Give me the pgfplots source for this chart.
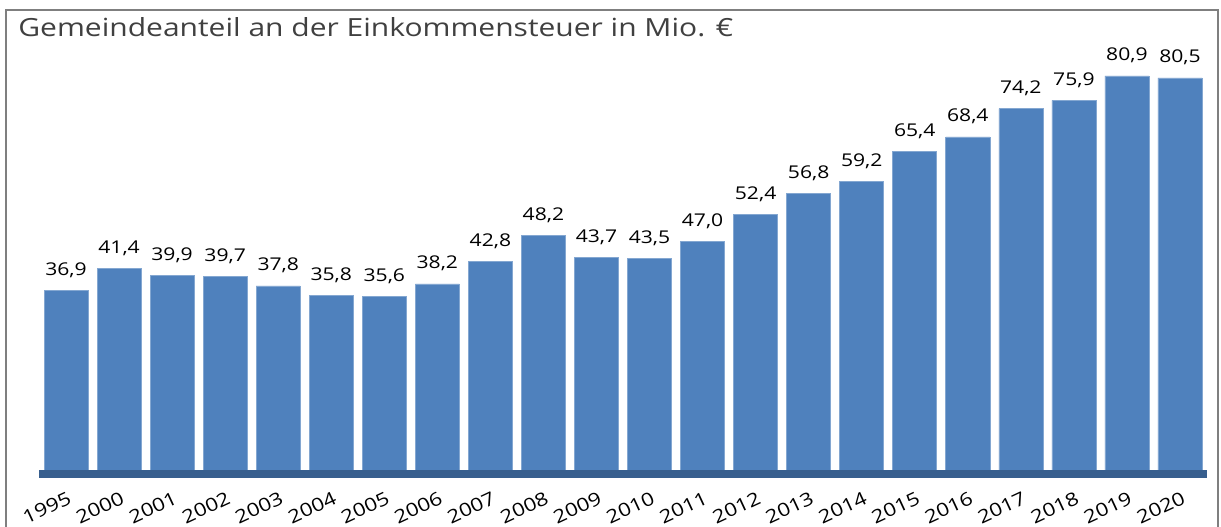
\documentclass[border=0pt]{standalone}
\usepackage{fontspec}
\setmainfont{Open Sans}[FakeStretch=1.2]
\usepackage{pgfplots}
\pgfplotsset{compat=1.18}
\definecolor{barblue}{HTML}{4F81BD}
\definecolor{bandblue}{HTML}{385F8E}
\definecolor{titlegray}{HTML}{404040}
\definecolor{framegray}{HTML}{7F7F7F}
\begin{document}
\begin{tikzpicture}
% page: 1221 x 526 px at 0.5pt per px
\path[use as bounding box] (0,0) rectangle (610.5pt,263pt);
\draw[framegray, line width=0.6pt] (3pt,-1pt) -- (3pt,258pt) -- (609pt,258pt) -- (609pt,-1pt);
\node[anchor=base west, inner sep=0pt, text=titlegray, font=\fontsize{12.5}{14}\selectfont] at (9pt,244.5pt)
  {Gemeindeanteil an der Einkommensteuer in Mio. €};
\begin{axis}[
  at={(19.75pt,28pt)}, anchor=south west,
  scale only axis,
  width=583.5pt, height=207pt,
  xmin=-0.5, xmax=21.5,
  ymin=0, ymax=85,
  hide y axis,
  axis x line*=bottom,
  x axis line style={draw=none},
  xtick=data,
  xticklabels={1995,2000,2001,2002,2003,2004,2005,2006,2007,2008,2009,2010,2011,2012,2013,2014,2015,2016,2017,2018,2019,2020},
  xtick style={draw=none},
  xticklabel style={rotate=25, anchor=north east, inner sep=0pt, yshift=-5.5pt, xshift=-2pt, font=\fontsize{9.2}{10}\selectfont},
  clip=false,
  ybar, bar width=0.83, bar shift=0pt,
  nodes near coords,
  every node near coord/.append style={/pgf/number format/assume math mode=true, /pgf/number format/use comma, /pgf/number format/fixed, /pgf/number format/fixed zerofill, /pgf/number format/precision=1,
    anchor=base, inner sep=0pt, yshift=7.5pt, text=black, font=\fontsize{8.8}{10}\selectfont},
]
\addplot[fill=barblue, draw=barblue!70!white, line width=0.3pt] coordinates {
(0,36.9) (1,41.4) (2,39.9) (3,39.7) (4,37.8) (5,35.8) (6,35.6) (7,38.2)
(8,42.8) (9,48.2) (10,43.7) (11,43.5) (12,47.0) (13,52.4) (14,56.8) (15,59.2)
(16,65.4) (17,68.4) (18,74.2) (19,75.9) (20,80.9) (21,80.5)};
\fill[bandblue] (rel axis cs:0,0) rectangle ([yshift=-4pt]rel axis cs:1,0);
\end{axis}
\end{tikzpicture}
\end{document}
